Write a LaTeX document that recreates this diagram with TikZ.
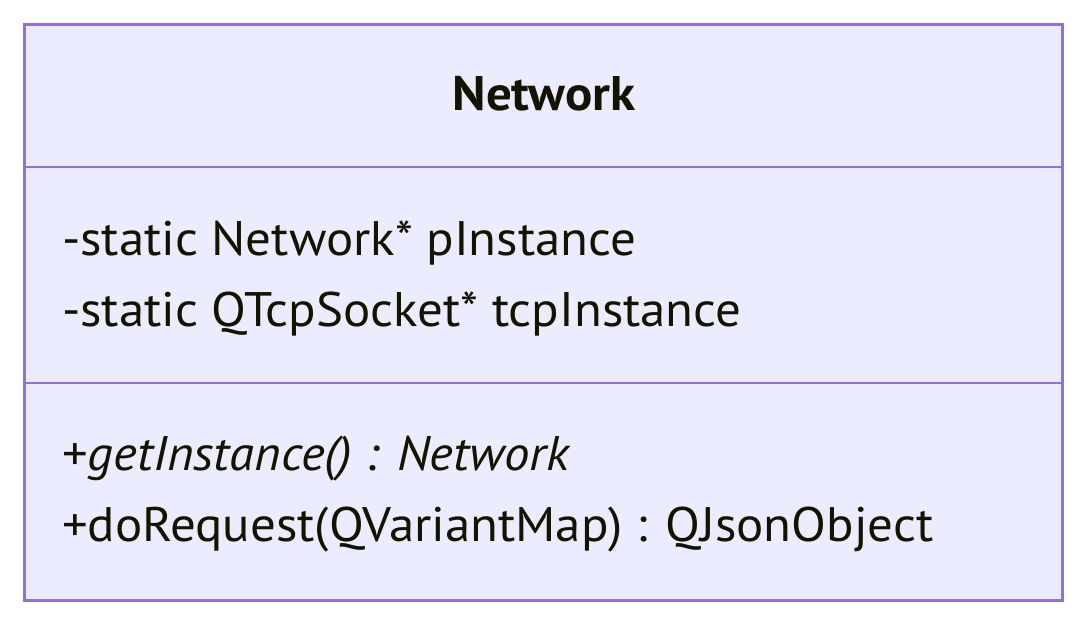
\documentclass[tikz,border=0pt]{standalone}
\usepackage{fontspec}
\setmainfont{PT Sans}[FakeStretch=1.05]
\definecolor{umlfill}{HTML}{ECECFF}
\definecolor{umlline}{HTML}{9370DB}
\definecolor{umltext}{HTML}{131300}
\begin{document}
\begin{tikzpicture}[x=1pt,y=-1pt,every node/.style={inner sep=0pt, outer sep=0pt, text=umltext, font=\fontsize{48.5}{58}\selectfont}]
\useasboundingbox (0,0) rectangle (1087,624);
\draw[fill=umlfill,draw=umlline,line width=3pt] (24,24) rectangle (1062,600);
\draw[umlline,line width=2pt] (24,167) -- (1062,167);
\draw[umlline,line width=2pt] (24,383) -- (1062,383);
\node[anchor=base,font=\fontsize{48.5}{58}\selectfont\bfseries] (title) at (544,110) {Network};
\node[anchor=base west] (attrA) at (62,255) {-static Network* pInstance};
\node[anchor=base west] (attrB) at (62,326) {-static QTcpSocket* tcpInstance};
\node[anchor=base west] (methA) at (62,470) {+\textit{getInstance() : Network}};
\node[anchor=base west] (methB) at (62,541) {+doRequest(QVariantMap) : QJsonObject};
\end{tikzpicture}
\end{document}
